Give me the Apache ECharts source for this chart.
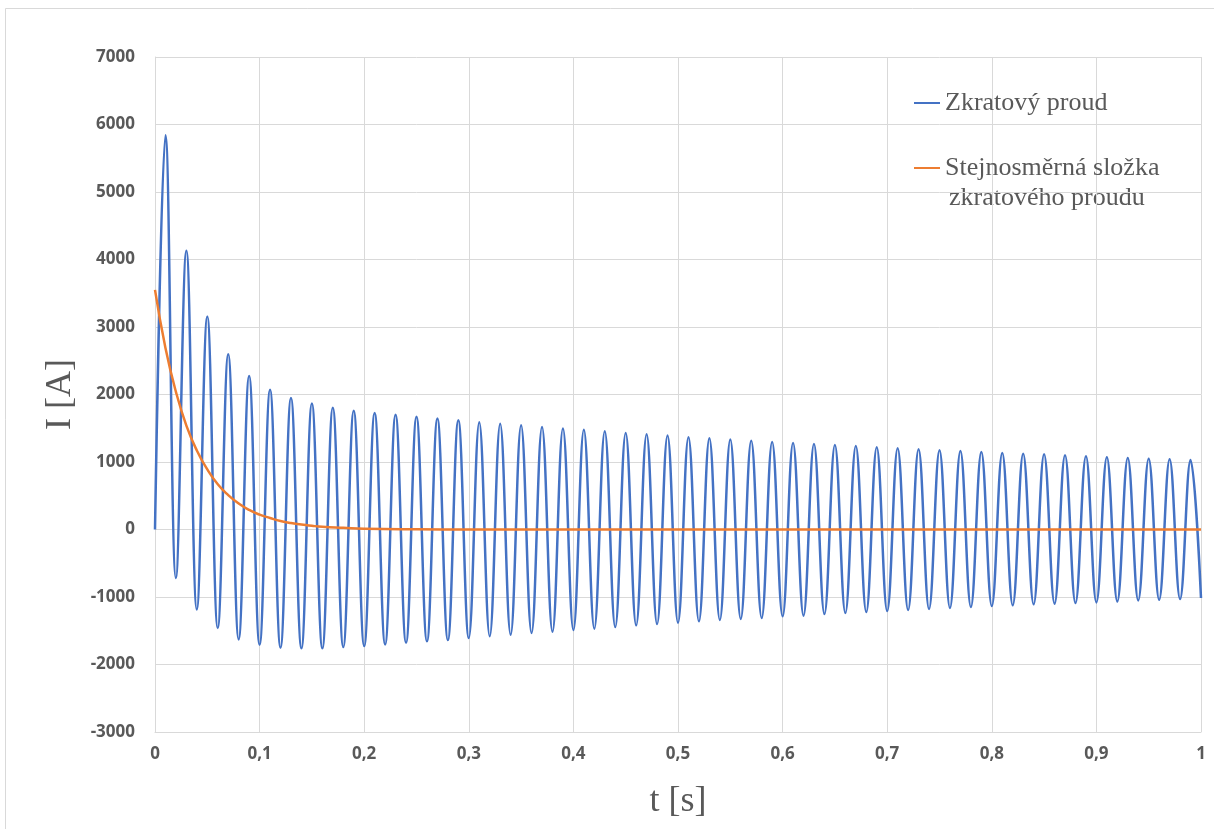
<!DOCTYPE html>
<html>
<head>
<meta charset="utf-8">
<title>Zkratový proud</title>
<script src="https://cdn.jsdelivr.net/npm/echarts@6/dist/echarts.min.js"></script>
<style>
  html, body { margin: 0; padding: 0; background: #fff; }
  #chart { width: 1214px; height: 829px; }
</style>
</head>
<body>
<div id="chart"></div>
<script>
// extremes of the short-circuit current (A)
// peaks at t = 0.01, 0.03, ... 0.99 s
const peaks = [
  5840, 4130, 3155, 2595, 2275, 2070, 1950, 1865, 1805, 1760,
  1725, 1699, 1669, 1644, 1619, 1589, 1565, 1545, 1520, 1496,
  1476, 1456, 1431, 1411, 1392, 1367, 1352, 1332, 1313, 1298,
  1283, 1267, 1252, 1237, 1218, 1203, 1188, 1174, 1163, 1148,
  1134, 1124, 1114, 1099, 1085, 1070, 1059, 1050, 1040, 1030
];
// troughs at t = 0.02, 0.04, ... 1.00 s
const troughs = [
  -720, -1184, -1460, -1628, -1707, -1751, -1761, -1761, -1741, -1727,
  -1702, -1678, -1657, -1638, -1608, -1583, -1559, -1534, -1515, -1490,
  -1470, -1445, -1420, -1401, -1381, -1361, -1341, -1326, -1312, -1287,
  -1277, -1252, -1237, -1223, -1208, -1193, -1178, -1163, -1148, -1134,
  -1124, -1109, -1099, -1089, -1080, -1065, -1050, -1040, -1030, -1015
];
const halfPeriod = 0.01; // 50 Hz

// DC component (A)
const dcTime = [0, 0.01, 0.02, 0.03, 0.04, 0.05, 0.06, 0.07, 0.08, 0.09, 0.10,
  0.11, 0.12, 0.13, 0.14, 0.15, 0.16, 0.18, 0.20, 0.25, 0.30, 1.00];
const dcValue = [3550, 2690, 2040, 1540, 1170, 890, 670, 510, 385, 290, 220,
  170, 125, 95, 75, 55, 40, 25, 12, 3, 0, 0];

const nameCurrent = 'Zkratový proud';
const nameDc = 'Stejnosměrná složka zkratového proudu';

const currentData = [[0, 0]];
for (let i = 0; i < peaks.length; i++) {
  currentData.push([(2 * i + 1) * halfPeriod, peaks[i]]);
  currentData.push([(2 * i + 2) * halfPeriod, troughs[i]]);
}
const dcData = dcTime.map((t, i) => [t, dcValue[i]]);

const chart = echarts.init(document.getElementById('chart'));
const labelFont = { color: '#595959', fontFamily: 'Open Sans', fontWeight: 'bold', fontSize: 17 };
const serif = 'Liberation Serif';

chart.setOption({
  animation: false,
  backgroundColor: '#fff',
  grid: { left: 155, right: 13, top: 57, bottom: 97 },
  legend: {
    orient: 'vertical',
    left: 909,
    top: 85,
    icon: 'rect',
    itemWidth: 26,
    itemHeight: 2,
    itemGap: 39,
    data: [nameCurrent, nameDc],
    formatter: n => (n === nameDc ? 'Stejnosměrná složka' : n),
    textStyle: { color: '#595959', fontFamily: serif, fontSize: 26 }
  },
  graphic: [
    {
      type: 'rect',
      shape: { x: 5.5, y: 8.5, width: 1220, height: 840 },
      style: { fill: 'none', stroke: '#d9d9d9', lineWidth: 1 },
      silent: true
    },
    {
      type: 'text',
      left: 949,
      top: 185,
      style: { text: 'zkratového proudu', fill: '#595959', font: '26px "Liberation Serif"' },
      silent: true
    }
  ],
  xAxis: {
    type: 'value',
    min: 0,
    max: 1,
    interval: 0.1,
    name: 't [s]',
    nameLocation: 'middle',
    nameGap: 52,
    nameTextStyle: { color: '#595959', fontFamily: serif, fontSize: 36 },
    axisLine: { onZero: false, lineStyle: { color: '#d9d9d9' } },
    axisTick: { show: false },
    splitLine: { lineStyle: { color: '#d9d9d9' } },
    axisLabel: Object.assign({ margin: 14, formatter: v => String(+v.toFixed(1)).replace('.', ',') }, labelFont)
  },
  yAxis: {
    type: 'value',
    min: -3000,
    max: 7000,
    interval: 1000,
    name: 'I [A]',
    nameLocation: 'middle',
    nameGap: 76,
    nameTextStyle: { color: '#595959', fontFamily: serif, fontSize: 36 },
    axisLine: { show: true, lineStyle: { color: '#d9d9d9' } },
    axisTick: { show: false },
    splitLine: { lineStyle: { color: '#d9d9d9' } },
    axisLabel: Object.assign({ margin: 20, formatter: v => String(v) }, labelFont)
  },
  series: [
    {
      name: nameCurrent,
      type: 'line',
      data: currentData,
      smooth: 0.4,
      symbol: 'none',
      lineStyle: { color: '#4472C4', width: 2.5 },
      itemStyle: { color: '#4472C4' }
    },
    {
      name: nameDc,
      type: 'line',
      data: dcData,
      smooth: true,
      symbol: 'none',
      lineStyle: { color: '#ED7D31', width: 2.5 },
      itemStyle: { color: '#ED7D31' }
    }
  ]
});
window.addEventListener('resize', () => chart.resize());
</script>
</body>
</html>
